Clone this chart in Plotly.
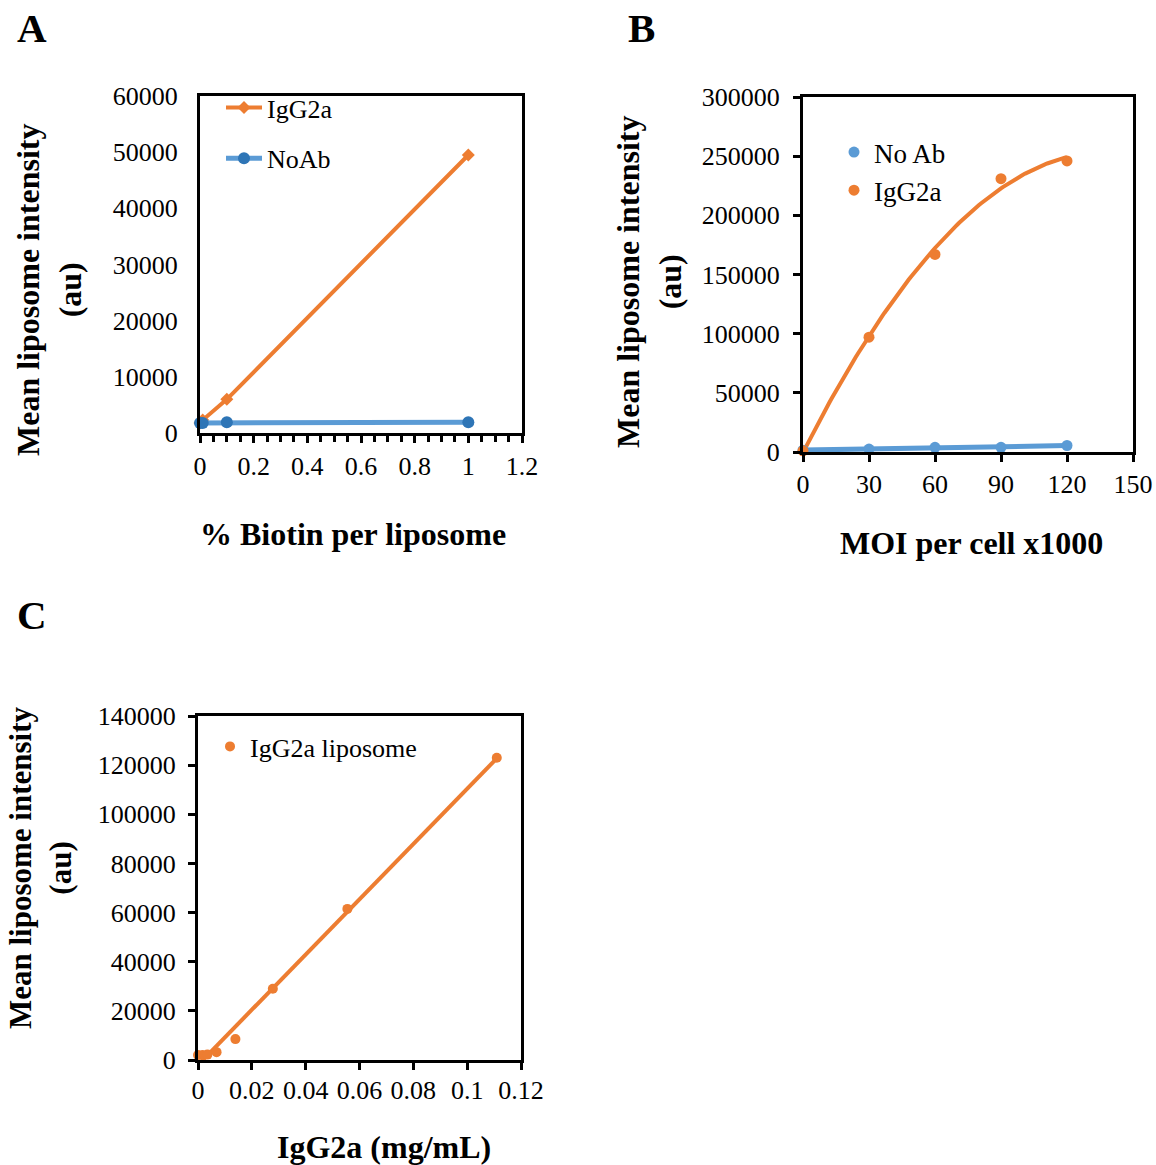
import numpy as np
import plotly.graph_objects as go

W, H = 1156, 1165
def px(x): return x / W
def py(y): return 1 - y / H

# ---------------- data ----------------
# Panel A
biotin_pct = [0, 0.01, 0.1, 1]
a_igg2a = [1800, 2300, 6000, 49500]
a_noab = [1800, 1800, 1900, 1900]

# Panel B
moi = [0, 30, 60, 90, 120]
b_noab = [1500, 2500, 4000, 4000, 5500]
b_igg2a = [1000, 97000, 167000, 231000, 246000]

# Panel C
igg_conc = [0, 0.0017, 0.0035, 0.0069, 0.0139, 0.0278, 0.0555, 0.111]
c_lipo = [2000, 2000, 2200, 3200, 8500, 29000, 61500, 123000]

ORANGE = "#ED7D31"
BLUE = "#5B9BD5"
DBLUE = "#2E75B6"
FONT = "Liberation Serif"

fig = go.Figure()

# Panel A
fig.add_trace(go.Scatter(x=biotin_pct, y=a_igg2a, mode="lines+markers", name="IgG2a",
                         line=dict(color=ORANGE, width=4),
                         marker=dict(symbol="diamond", size=10, color=ORANGE),
                         xaxis="x", yaxis="y", legend="legend", legendgroup="a1",
                         cliponaxis=False))
fig.add_trace(go.Scatter(x=biotin_pct, y=a_noab, mode="lines+markers", name="NoAb",
                         line=dict(color=BLUE, width=5),
                         marker=dict(symbol="circle", size=12, color=DBLUE),
                         xaxis="x", yaxis="y", legend="legend", legendgroup="a2",
                         cliponaxis=False))

# Panel B trendlines
xb = np.linspace(0, 120, 121)
pb = np.polyfit(moi, b_igg2a, 2)
fig.add_trace(go.Scatter(x=xb, y=np.polyval(pb, xb), mode="lines", showlegend=False,
                         line=dict(color=ORANGE, width=4), xaxis="x2", yaxis="y2",
                         cliponaxis=False, hoverinfo="skip"))
pn = np.polyfit(moi, b_noab, 1)
fig.add_trace(go.Scatter(x=xb, y=np.polyval(pn, xb), mode="lines", showlegend=False,
                         line=dict(color=BLUE, width=5), xaxis="x2", yaxis="y2",
                         cliponaxis=False, hoverinfo="skip"))
fig.add_trace(go.Scatter(x=moi, y=b_noab, mode="markers", name="No Ab",
                         marker=dict(size=11, color=BLUE),
                         xaxis="x2", yaxis="y2", legend="legend2", cliponaxis=False))
fig.add_trace(go.Scatter(x=moi, y=b_igg2a, mode="markers", name="IgG2a",
                         marker=dict(size=11, color=ORANGE),
                         xaxis="x2", yaxis="y2", legend="legend2", cliponaxis=False))

# Panel C
xc = np.linspace(0, max(igg_conc), 50)
pc = np.polyfit(igg_conc, c_lipo, 1)
fig.add_trace(go.Scatter(x=xc, y=np.polyval(pc, xc), mode="lines", showlegend=False,
                         line=dict(color=ORANGE, width=4), xaxis="x3", yaxis="y3",
                         cliponaxis=False, hoverinfo="skip"))
fig.add_trace(go.Scatter(x=igg_conc, y=c_lipo, mode="markers", name="IgG2a liposome",
                         marker=dict(size=10, color=ORANGE),
                         xaxis="x3", yaxis="y3", legend="legend3", cliponaxis=False))

tickfont = dict(family=FONT, size=26, color="black")
common = dict(showline=True, linewidth=3, linecolor="black", mirror=True,
              showgrid=False, zeroline=False, tickfont=tickfont, automargin=False,
              tickcolor="black", tickwidth=3, ticklen=7)

fig.update_layout(
    width=W, height=H, margin=dict(l=0, r=0, t=0, b=0, pad=0, autoexpand=False),
    paper_bgcolor="white", plot_bgcolor="white",
    showlegend=True,
    xaxis=dict(domain=[px(200), px(522)], anchor="y", range=[0, 1.2], dtick=0.2,
               ticks="outside", ticklabelstandoff=1,
               minor=dict(dtick=0.05, ticks="outside", ticklen=6, tickwidth=3, tickcolor="black"),
               **common),
    yaxis=dict(domain=[py(433), py(96)], anchor="x", range=[0, 60000], dtick=10000,
               ticks="", tickformat="d", ticklabelstandoff=14, **common),
    xaxis2=dict(domain=[px(803), px(1133)], anchor="y2", range=[0, 150], dtick=30,
                ticks="outside", ticklabelstandoff=0, **common),
    yaxis2=dict(domain=[py(452), py(97)], anchor="x2", range=[0, 300000], dtick=50000,
                ticks="outside", tickformat="d", ticklabelstandoff=8, **common),
    xaxis3=dict(domain=[px(198), px(521)], anchor="y3", range=[0, 0.12], dtick=0.02,
                ticks="outside", ticklabelstandoff=-2, **common),
    yaxis3=dict(domain=[py(1060), py(716)], anchor="x3", range=[0, 140000], dtick=20000,
                ticks="outside", tickformat="d", ticklabelstandoff=7, **common),
    legend=dict(x=px(221), y=py(84), xanchor="left", yanchor="top",
                bgcolor="rgba(0,0,0,0)", font=dict(family=FONT, size=26, color="black"),
                tracegroupgap=14, itemwidth=36),
    legend2=dict(x=px(834), y=py(128), xanchor="left", yanchor="top",
                 bgcolor="rgba(0,0,0,0)", font=dict(family=FONT, size=27, color="black"),
                 itemwidth=30),
    legend3=dict(x=px(210), y=py(723), xanchor="left", yanchor="top",
                 bgcolor="rgba(0,0,0,0)", font=dict(family=FONT, size=26, color="black"),
                 itemwidth=30),
)

def ann(text, x, y, size, angle=0, bold=True):
    fig.add_annotation(text=f"<b>{text}</b>" if bold else text, x=px(x), y=py(y),
                       xref="paper", yref="paper", showarrow=False, textangle=angle,
                       font=dict(family=FONT, size=size, color="black"),
                       xanchor="center", yanchor="middle")

# panel letters
ann("A", 32, 28, 41)
ann("B", 641, 28, 41)
ann("C", 32, 615, 41)

# axis titles
ann("% Biotin per liposome", 353, 534, 32)
ann("MOI per cell x1000", 971, 543, 32)
ann("IgG2a (mg/mL)", 384, 1147, 32)
ann("Mean liposome intensity<br>(au)", 49, 290, 32, angle=-90)
ann("Mean liposome intensity<br>(au)", 649, 282, 32, angle=-90)
ann("Mean liposome intensity<br>(au)", 40, 868, 31, angle=-90)

fig.write_html("out.html")
